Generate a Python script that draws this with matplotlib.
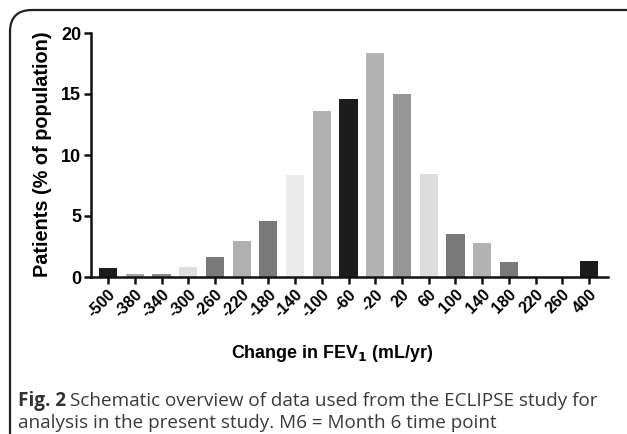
import matplotlib
matplotlib.use("Agg")
import matplotlib.pyplot as plt
from matplotlib.patches import FancyBboxPatch

# FEV1 change bins (mL/yr) and share of patients
bins = ["-500", "-380", "-340", "-300", "-260", "-220", "-180", "-140", "-100", "-60",
        "-20", "20", "60", "100", "140", "180", "220", "260", "400"]
patients = [0.75, 0.22, 0.22, 0.82, 1.62, 2.93, 4.63, 8.33, 13.64, 14.63,
            18.36, 15.01, 8.41, 3.53, 2.82, 1.23, 0.0, 0.0, 1.34]
shades = ["#1c1c1c", "#a8a8a8", "#8c8c8c", "#dedede", "#7a7a7a", "#b0b0b0", "#7a7a7a",
          "#ececec", "#b0b0b0", "#1c1c1c", "#b3b3b3", "#979797", "#dddddd", "#7a7a7a",
          "#b3b3b3", "#7a7a7a", "#7a7a7a", "#7a7a7a", "#1c1c1c"]

W, H = 627, 434
fig = plt.figure(figsize=(W / 100, H / 100), dpi=100)
ax = fig.add_axes([91 / W, 1 - 277 / H, (608 - 91) / W, (277 - 33) / H])

x = list(range(len(bins)))
ax.bar(x, patients, width=0.68, color=shades, edgecolor="none")

ax.set_xlim(-0.64, len(bins) - 1 + 0.71)
ax.set_ylim(0, 20)
ax.set_yticks([0, 5, 10, 15, 20])
ax.set_xticks(x)
ax.set_xticklabels(bins, rotation=45, ha="right", rotation_mode="anchor",
                   fontsize=11.5, fontweight="bold", family="Liberation Sans")
for lab in ax.get_yticklabels():
    lab.set_fontsize(13)
    lab.set_fontweight("bold")
    lab.set_family("Liberation Sans")

for s in ["top", "right"]:
    ax.spines[s].set_visible(False)
for s in ["left", "bottom"]:
    ax.spines[s].set_linewidth(1.8)
    ax.spines[s].set_color("#111111")
ax.tick_params(axis="both", direction="out", length=5, width=1.8, color="#111111", pad=2)

fig.text(43 / W, 1 - 154 / H, "Patients (% of population)", rotation=90,
         ha="center", va="center", fontsize=14.3, fontweight="bold", family="Liberation Sans")
fig.text(332 / W, 1 - 354 / H, r"Change in FEV$_\mathbf{1}$ (mL/yr)",
         ha="center", va="center", fontsize=12.9, fontweight="bold", family="Liberation Sans")

# frame around the figure panel (open to the right / bottom)
frame = FancyBboxPatch((10 / W, -0.05), 1.2, 1 - 10 / H + 0.05,
                       boxstyle="round,pad=0,rounding_size=0.035",
                       transform=fig.transFigure, fill=False,
                       edgecolor="#222222", linewidth=1.6, mutation_aspect=W / H)
fig.add_artist(frame)

# caption
cap_font = "Open Sans"
cap_size = 13.6
t1 = fig.text(18 / W, 1 - 401 / H, "Fig. 2", ha="left", va="center",
              fontsize=cap_size, fontweight="bold", family=cap_font, color="#333333")
fig.canvas.draw()
bb = t1.get_window_extent()
fig.text((bb.x1 + 4) / W, 1 - 401 / H,
         "Schematic overview of data used from the ECLIPSE study for",
         ha="left", va="center", fontsize=cap_size, family=cap_font, color="#3a3a3a")
fig.text(18 / W, 1 - 423 / H, "analysis in the present study. M6 = Month 6 time point",
         ha="left", va="center", fontsize=cap_size, family=cap_font, color="#3a3a3a")

fig.savefig("out.png", dpi=100)
